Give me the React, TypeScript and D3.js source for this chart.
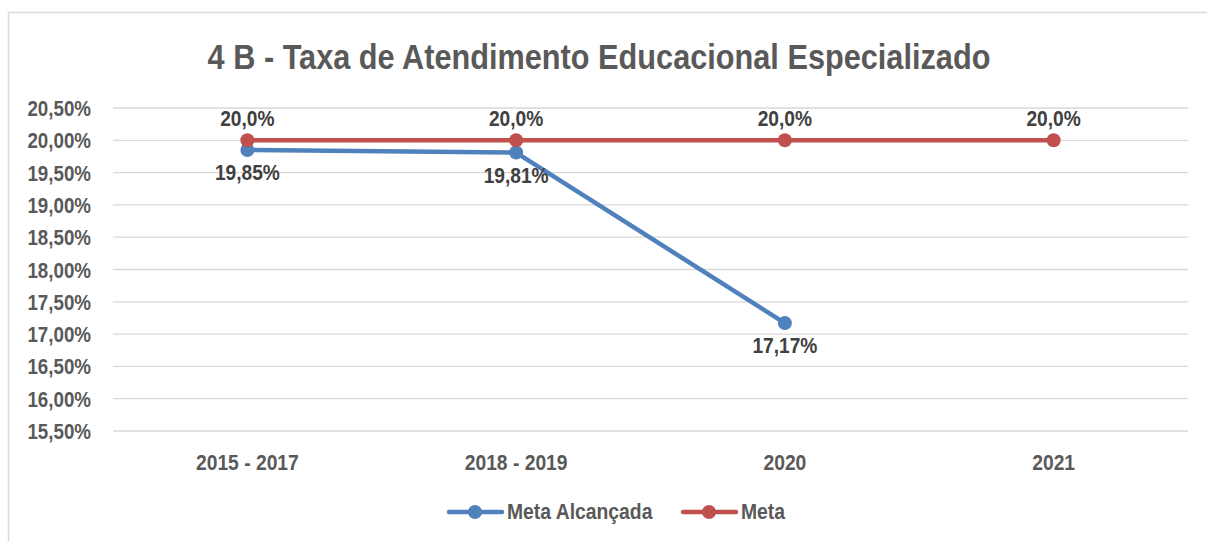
import React from 'react';
import * as d3 from 'd3';

const periods = ['2015 - 2017', '2018 - 2019', '2020', '2021'];
const metaAlcancada = [19.85, 19.81, 17.17];
const meta = [20.0, 20.0, 20.0, 20.0];
const yTicks = [15.5, 16, 16.5, 17, 17.5, 18, 18.5, 19, 19.5, 20, 20.5];

const W = 1207;
const H = 541;
const FONT = '"Liberation Sans", Arial, sans-serif';
const SX = 0.86; // narrow look, like Arial Narrow
const BLUE = '#4f81bd';
const RED = '#c0504d';

const fmtTick = (v: number) => v.toFixed(2).replace('.', ',') + '%';

// condensed bold label
const Label = (props: { x: number; y: number; size: number; anchor?: string; fill?: string; children: React.ReactNode }) => (
  <text
    transform={`translate(${props.x},${props.y}) scale(${SX},1)`}
    textAnchor={props.anchor || 'start'}
    fontFamily={FONT}
    fontWeight="bold"
    fontSize={props.size}
    fill={props.fill || '#595959'}
  >
    {props.children}
  </text>
);

export default function App() {
  const x = d3.scaleBand<string>().domain(periods).range([113, 1188]);
  const y = d3.scaleLinear().domain([15.5, 20.5]).range([431, 108]);
  const cx = (p: string) => (x(p) as number) + x.bandwidth() / 2;

  const line = d3.line<[string, number]>()
    .x((d) => cx(d[0]))
    .y((d) => y(d[1]));

  const blueData: [string, number][] = metaAlcancada.map((v, i) => [periods[i], v]);
  const redData: [string, number][] = meta.map((v, i) => [periods[i], v]);

  return (
    <svg width={W} height={H} style={{ position: 'absolute', left: 0, top: 0 }}>
      <rect x={0} y={0} width={W} height={H} fill="#fff" />
      <path d={`M8.5,${H} V12.5 H${W}`} fill="none" stroke="#d9d9d9" strokeWidth={1.5} />
      <Label x={599} y={68.5} size={35.7} anchor="middle">4 B - Taxa de Atendimento Educacional Especializado</Label>

      {yTicks.map((t) => (
        <g key={t}>
          <line x1={113} x2={1188} y1={y(t)} y2={y(t)} stroke="#d9d9d9" strokeWidth={1.3} />
          <Label x={91} y={y(t) + 8} size={21.8} anchor="end">{fmtTick(t)}</Label>
        </g>
      ))}

      {periods.map((p) => (
        <Label key={p} x={cx(p)} y={470} size={22.4} anchor="middle">{p}</Label>
      ))}

      <path d={line(blueData) || ''} fill="none" stroke={BLUE} strokeWidth={4.5} strokeLinejoin="round" />
      {blueData.map((d) => (
        <circle key={d[0]} cx={cx(d[0])} cy={y(d[1])} r={7} fill={BLUE} />
      ))}
      <path d={line(redData) || ''} fill="none" stroke={RED} strokeWidth={4.5} strokeLinejoin="round" />
      {redData.map((d) => (
        <circle key={d[0]} cx={cx(d[0])} cy={y(d[1])} r={7} fill={RED} />
      ))}

      {redData.map((d) => (
        <Label key={d[0]} x={cx(d[0])} y={y(d[1]) - 14} size={22.3} anchor="middle" fill="#404040">
          {d[1].toFixed(1).replace('.', ',') + '%'}
        </Label>
      ))}
      {blueData.map((d) => (
        <Label key={d[0]} x={cx(d[0])} y={y(d[1]) + 30} size={22.3} anchor="middle" fill="#404040">
          {d[1].toFixed(2).replace('.', ',') + '%'}
        </Label>
      ))}

      <g>
        <line x1={449} x2={502} y1={512} y2={512} stroke={BLUE} strokeWidth={4.5} strokeLinecap="round" />
        <circle cx={475} cy={512} r={7} fill={BLUE} />
        <Label x={507} y={519} size={22.5}>Meta Alcançada</Label>
        <line x1={683} x2={736} y1={512} y2={512} stroke={RED} strokeWidth={4.5} strokeLinecap="round" />
        <circle cx={709} cy={512} r={7} fill={RED} />
        <Label x={741} y={519} size={22.5}>Meta</Label>
      </g>
    </svg>
  );
}
